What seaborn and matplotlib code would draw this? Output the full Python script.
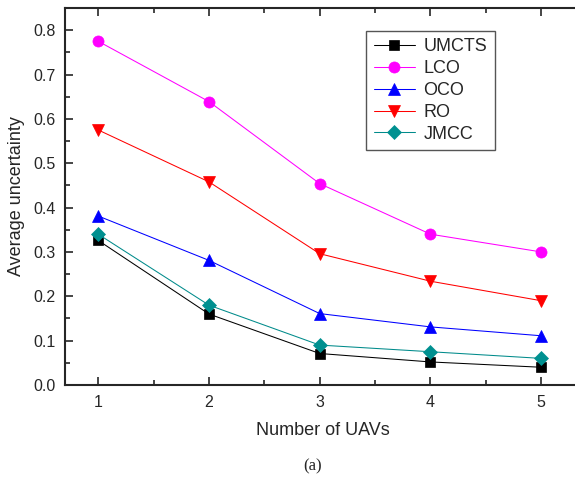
import matplotlib
matplotlib.use("Agg")
import matplotlib.pyplot as plt
from matplotlib.ticker import MultipleLocator
import pandas as pd
import seaborn as sns

# Number of UAVs on the x axis
num_uavs = [1, 2, 3, 4, 5]

# Average uncertainty for each method
umcts = [0.326, 0.160, 0.071, 0.052, 0.040]
lco = [0.775, 0.639, 0.454, 0.340, 0.300]
oco = [0.381, 0.281, 0.161, 0.131, 0.111]
ro = [0.575, 0.458, 0.296, 0.234, 0.190]
jmcc = [0.340, 0.180, 0.090, 0.075, 0.060]

methods = ["UMCTS", "LCO", "OCO", "RO", "JMCC"]
series = [umcts, lco, oco, ro, jmcc]

sns.set_style("ticks")
plt.rcParams["font.family"] = ["Liberation Sans", "DejaVu Sans"]

styles = {
    "UMCTS": dict(color="#000000", marker="s", mfc="#000000", ms=6.5),
    "LCO": dict(color="#FF00FF", marker="o", mfc="#FF00FF", ms=8),
    "OCO": dict(color="#0000FF", marker="^", mfc="#0000FF", ms=8),
    "RO": dict(color="#FF0000", marker="v", mfc="#FF0000", ms=8),
    "JMCC": dict(color="#008B8B", marker="D", mfc="#009090", ms=7),
}

frames = []
for name, vals in zip(methods, series):
    frames.append(pd.DataFrame({"uavs": num_uavs, "uncertainty": vals, "method": name}))
df = pd.concat(frames, ignore_index=True)

fig = plt.figure(figsize=(5.75, 4.78), dpi=100)
ax = fig.add_axes([65 / 575, 93 / 478, 515 / 575, 377 / 478])

for name in methods:
    st = styles[name]
    sns.lineplot(
        data=df[df["method"] == name], x="uavs", y="uncertainty", ax=ax,
        color=st["color"], marker=st["marker"], markersize=st["ms"],
        markerfacecolor=st["mfc"], markeredgecolor=st["mfc"], markeredgewidth=0.5,
        linewidth=0.75, label=name,
    )

ax.set_xlim(0.7, 5.35)
ax.set_ylim(0.0, 0.85)
ax.xaxis.set_major_locator(MultipleLocator(1))
ax.xaxis.set_minor_locator(MultipleLocator(0.5))
ax.yaxis.set_major_locator(MultipleLocator(0.1))
ax.yaxis.set_minor_locator(MultipleLocator(0.05))
ax.yaxis.set_major_formatter(matplotlib.ticker.FormatStrFormatter("%.1f"))

ax.tick_params(which="both", direction="in", top=True, right=False, width=1.2, labelsize=11.5)
ax.tick_params(which="major", length=6, pad=7)
ax.tick_params(which="minor", length=3.5)
for side in ["left", "bottom", "top"]:
    ax.spines[side].set_linewidth(1.5)
ax.spines["right"].set_visible(False)

ax.set_xlabel("Number of UAVs", fontsize=13, labelpad=9)
ax.set_ylabel("Average uncertainty", fontsize=13, labelpad=6)

leg = ax.legend(
    loc="upper left", bbox_to_anchor=((366 - 65) / 515, (385 - 30.7) / 377),
    fontsize=13, frameon=True, fancybox=False, framealpha=1, edgecolor="#555555",
    handlelength=2.3, handletextpad=0.45, labelspacing=0.27, borderpad=0.42,
    borderaxespad=0.0,
)
leg.get_frame().set_linewidth(1.0)

fig.text(313 / 575, 12 / 478, "(a)", ha="center", va="center", fontsize=12,
         family=["Liberation Serif", "DejaVu Serif"])

fig.savefig("out.png", dpi=100)
